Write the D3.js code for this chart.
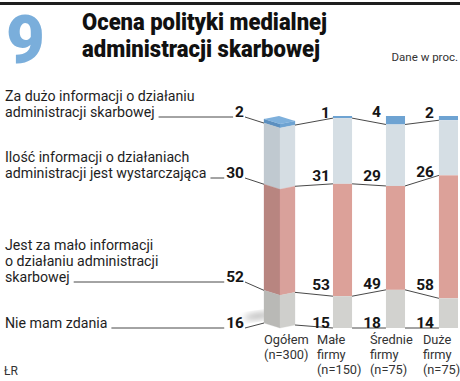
<!DOCTYPE html>
<html>
<head>
<meta charset="utf-8">
<script src="https://cdn.jsdelivr.net/npm/d3@7"></script>
<style>
  html, body { margin: 0; padding: 0; background: #fff; }
  svg { display: block; }
</style>
</head>
<body>
<svg id="chart" width="460" height="381"></svg>
<script>
// ---- data ----
const categories = ["Ogółem", "Małe firmy", "Średnie firmy", "Duże firmy"];
const categoryLabels = [["Ogółem", "(n=300)"], ["Małe", "firmy", "(n=150)"], ["Średnie", "firmy", "(n=75)"], ["Duże", "firmy", "(n=75)"]];
const seriesNames = [
  ["Za dużo informacji o działaniu", "administracji skarbowej"],
  ["Ilość informacji o działaniach", "administracji jest wystarczająca"],
  ["Jest za mało informacji", "o działaniu administracji", "skarbowej"],
  ["Nie mam zdania"]
];
const tooMuch     = [2, 1, 4, 2];
const enough      = [30, 31, 29, 26];
const tooLittle   = [52, 53, 49, 58];
const noOpinion   = [16, 15, 18, 14];
const series = [tooMuch, enough, tooLittle, noOpinion];
const titleLines = ["Ocena polityki medialnej", "administracji skarbowej"];
const chartNumber = "9";
const unitNote = "Dane w proc.";
const sourceNote = "ŁR";

// ---- styles ----
const colors = ["#6ea3d2", "#d5dee4", "#dca199", "#d2d2cf"];
const leftColors = ["#5c8fbf", "#c0c9d0", "#b88580", "#b9b9b6"];
const rightColors = ["#6ea3d2", "#d5dde3", "#d9a19b", "#cfcfcc"];
const topFace = "#7eb0dc";
const FONT = "Roboto, 'Noto Sans', sans-serif";

const svg = d3.select("#chart");

// header
svg.append("rect").attr("x", 0).attr("y", 2).attr("width", 460).attr("height", 3).attr("fill", "#1e1e1e");
svg.append("text").text(chartNumber)
  .attr("x", 6).attr("y", 63)
  .attr("font-family", FONT).attr("font-weight", 900).attr("font-size", 67)
  .attr("fill", "#7aaedb");
titleLines.forEach((t, i) => {
  svg.append("text").text(t)
    .attr("x", 82).attr("y", 30 + i * 27)
    .attr("font-family", FONT).attr("font-weight", 900).attr("font-size", 24)
    .attr("textLength", i === 0 ? 245 : 238).attr("lengthAdjust", "spacingAndGlyphs")
    .attr("fill", "#111");
});
svg.append("text").text(unitNote)
  .attr("x", 458).attr("y", 61).attr("text-anchor", "end")
  .attr("font-family", FONT).attr("font-size", 11.5).attr("fill", "#333");
svg.append("text").text(sourceNote)
  .attr("x", 4).attr("y", 375)
  .attr("font-family", FONT).attr("font-size", 12).attr("fill", "#333");

// scales
const x = d3.scaleBand().domain(categories).range([280, 458]).paddingInner(0.64).paddingOuter(0);
const bw = x.bandwidth();
const y = d3.scaleLinear().domain([0, 100]).range([328, 116]);
const yOg = d3.scaleLinear().domain([0, 100]).range([328, 124]); // front corner of 3D bar
const ogLeftW = 16, ogRightW = 15, ogLeftDy = -5, ogRightDy = -3;

// cumulative stacks (from top)
const stacked = categories.map((c, ci) => {
  let top = 100;
  return series.map((s, si) => {
    const v = s[ci];
    const seg = { cat: c, ci, si, hi: top, lo: top - v, v };
    top -= v;
    return seg;
  });
});

// shadow under Ogółem
const defs = svg.append("defs");
const blur = defs.append("filter").attr("id", "blur").attr("x", "-50%").attr("y", "-50%").attr("width", "200%").attr("height", "200%");
blur.append("feGaussianBlur").attr("stdDeviation", 3);
svg.append("ellipse")
  .attr("cx", x(categories[0]) - 22).attr("cy", yOg(0) - 12)
  .attr("rx", 14).attr("ry", 3)
  .attr("fill", "#b5b5b5").attr("filter", "url(#blur)")
  .attr("transform", `rotate(-8, ${x(categories[0]) - 22}, ${yOg(0) - 12})`);

function leftY(ci, v) { return ci === 0 ? yOg(v) + ogLeftDy : y(v); }
function rightY(ci, v) { return ci === 0 ? yOg(v) + ogRightDy : y(v); }
function leftX(ci) { return ci === 0 ? x(categories[0]) - ogLeftW : x(categories[ci]); }
function rightX(ci) { return ci === 0 ? x(categories[0]) + ogRightW : x(categories[ci]) + bw; }

// bars
const gBars = svg.append("g");
stacked.forEach((segs, ci) => {
  segs.forEach(s => {
    if (ci === 0) {
      const cx = x(s.cat);
      const lx = cx - ogLeftW, rx = cx + ogRightW;
      gBars.append("path")
        .attr("d", `M${lx},${yOg(s.hi) + ogLeftDy}L${cx},${yOg(s.hi)}L${cx},${yOg(s.lo)}L${lx},${yOg(s.lo) + ogLeftDy}Z`)
        .attr("fill", leftColors[s.si]).attr("stroke", leftColors[s.si]).attr("stroke-width", 0.3);
      gBars.append("path")
        .attr("d", `M${cx},${yOg(s.hi)}L${rx},${yOg(s.hi) + ogRightDy}L${rx},${yOg(s.lo) + ogRightDy}L${cx},${yOg(s.lo)}Z`)
        .attr("fill", rightColors[s.si]).attr("stroke", rightColors[s.si]).attr("stroke-width", 0.3);
    } else {
      gBars.append("rect")
        .attr("x", x(s.cat)).attr("width", bw)
        .attr("y", y(s.hi)).attr("height", y(s.lo) - y(s.hi))
        .attr("fill", colors[s.si]);
    }
  });
});
// top face of the 3D bar
{
  const cx = x(categories[0]);
  const t = yOg(100);
  const lx = cx - ogLeftW, rx = cx + ogRightW;
  const bx = lx + ogRightW, by = t + ogLeftDy + ogRightDy;
  gBars.append("path")
    .attr("d", `M${lx},${t + ogLeftDy}L${bx},${by}L${rx},${t + ogRightDy}L${cx},${t}Z`)
    .attr("fill", topFace);
}

// connector lines and value labels
const gLines = svg.append("g").attr("fill", "none").attr("stroke", "#333").attr("stroke-width", 0.9);
const gNums = svg.append("g").attr("font-family", FONT).attr("font-weight", 700).attr("font-size", 15.5).attr("fill", "#151515");

const numRight = 244;
series.forEach((s, si) => {
  const bottomOf = ci => stacked[ci][si].lo;
  for (let ci = 1; ci < categories.length; ci++) {
    const x1 = rightX(ci - 1), y1 = rightY(ci - 1, bottomOf(ci - 1));
    const x2 = leftX(ci), y2 = leftY(ci, bottomOf(ci));
    gLines.append("line").attr("x1", x1).attr("y1", y1).attr("x2", x2).attr("y2", y2);
    const isBase = si === series.length - 1;
    const base = isBase ? y2 - 0.5 : (y1 + y2) / 2 - 4;
    gNums.append("text").text(s[ci])
      .attr("x", x(categories[ci]) - (ci === 1 ? 3 : 5)).attr("y", base)
      .attr("text-anchor", "end");
  }
});

// left labels
const gLab = svg.append("g").attr("font-family", FONT).attr("font-size", 14.2).attr("fill", "#1e1e1e");
const rowYs = [117, 178, 282, 328];
series.forEach((s, si) => {
  const bottomVal = stacked[0][si].lo;
  const ly = rowYs[si];
  const names = seriesNames[si];
  let lastText;
  names.forEach((n, k) => {
    lastText = gLab.append("text").text(n)
      .attr("x", 5).attr("y", ly - (names.length - 1 - k) * 16);
  });
  const tEnd = 5 + lastText.node().getComputedTextLength();
  const num = gNums.append("text").text(s[0])
    .attr("x", numRight).attr("y", ly).attr("text-anchor", "end");
  const nStart = numRight - num.node().getComputedTextLength();
  gLines.append("line").attr("x1", tEnd + 4).attr("y1", ly).attr("x2", nStart - 2).attr("y2", ly);
  gLines.append("line").attr("x1", numRight + 1).attr("y1", ly)
    .attr("x2", leftX(0)).attr("y2", leftY(0, bottomVal));
});

// category labels
const gCat = svg.append("g").attr("font-family", FONT).attr("font-size", 12.8).attr("fill", "#333");
categories.forEach((c, ci) => {
  categoryLabels[ci].forEach((t, k) => {
    gCat.append("text").text(t)
      .attr("x", x(c) - 16).attr("y", 344 + k * 15);
  });
});
</script>
</body>
</html>
